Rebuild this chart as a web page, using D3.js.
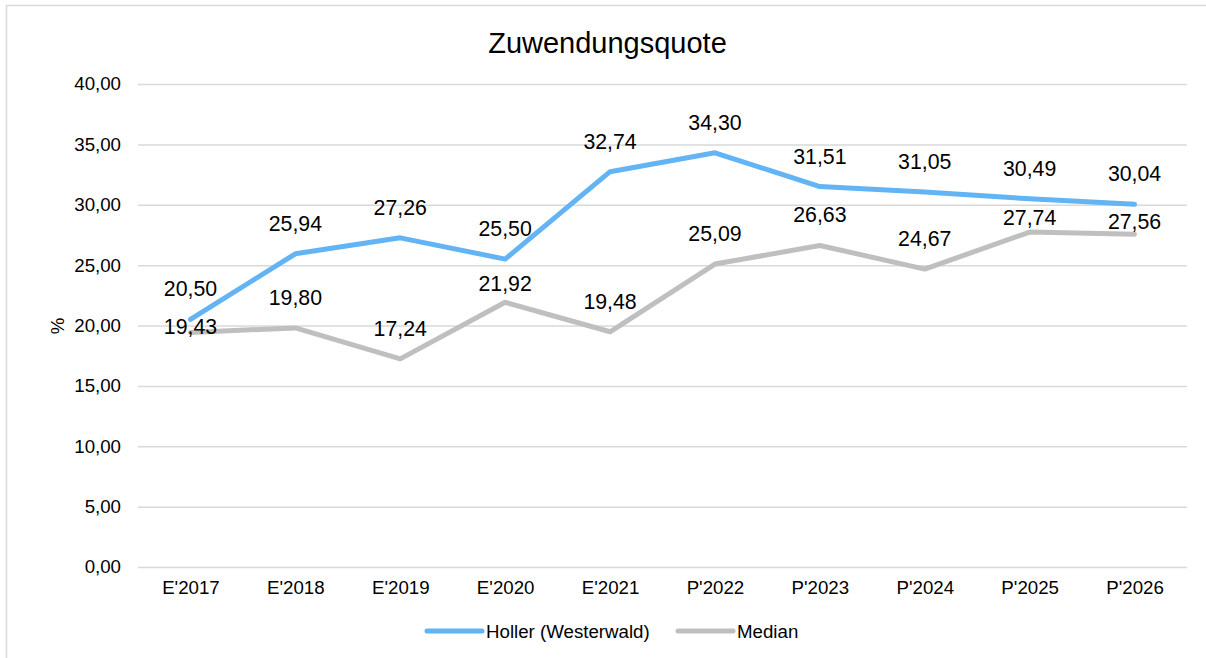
<!DOCTYPE html>
<html>
<head>
<meta charset="utf-8">
<script src="https://cdn.jsdelivr.net/npm/d3@7"></script>
<style>
  body { margin: 0; background: #fff; }
  text { font-family: "Liberation Sans", Arial, sans-serif; fill: #000; }
</style>
</head>
<body>
<script>
// data
var years = ["E'2017", "E'2018", "E'2019", "E'2020", "E'2021", "P'2022", "P'2023", "P'2024", "P'2025", "P'2026"];
var holler = [20.50, 25.94, 27.26, 25.50, 32.74, 34.30, 31.51, 31.05, 30.49, 30.04];
var median = [19.43, 19.80, 17.24, 21.92, 19.48, 25.09, 26.63, 24.67, 27.74, 27.56];
var yTicks = [0, 5, 10, 15, 20, 25, 30, 35, 40];
var seriesNames = ["Holler (Westerwald)", "Median"];
var colours = ["#63b4f4", "#bfbfbf"];

var W = 1206, H = 658;
var fmt = function(v) { return v.toFixed(2).replace(".", ","); };

var svg = d3.select("body").append("svg")
    .attr("width", W)
    .attr("height", H);

// chart frame
svg.append("rect")
    .attr("x", 6.5).attr("y", 5.5)
    .attr("width", W + 10).attr("height", H + 10)
    .attr("fill", "none")
    .attr("stroke", "#d9d9d9")
    .attr("stroke-width", 1.5);

var x = d3.scalePoint().domain(years).range([138, 1187]).padding(0.5);
var y = d3.scaleLinear().domain([0, 40]).range([567, 84]);

// gridlines + y ticks
var yAxis = d3.axisLeft(y).tickValues(yTicks).tickFormat(fmt)
    .tickSize(-(1187 - 138)).tickPadding(17);
var gy = svg.append("g").attr("transform", "translate(138,0)").call(yAxis);
gy.select(".domain").remove();
gy.selectAll("line").attr("stroke", "#d9d9d9").attr("stroke-width", 1.5);
gy.selectAll("text").style("font-size", "18.7px").attr("fill", "#000");

// x axis labels
var xAxis = d3.axisBottom(x).tickSize(0).tickPadding(14);
var gx = svg.append("g").attr("transform", "translate(0,567)").call(xAxis);
gx.select(".domain").remove();
gx.selectAll("text").style("font-size", "18.7px").attr("fill", "#000");

// title and axis name
svg.append("text")
    .attr("x", 607.5).attr("y", 43)
    .attr("text-anchor", "middle")
    .attr("dominant-baseline", "central")
    .style("font-size", "29px")
    .text("Zuwendungsquote");

svg.append("text")
    .attr("transform", "translate(57,326) rotate(-90)")
    .attr("text-anchor", "middle")
    .attr("dominant-baseline", "central")
    .style("font-size", "18.7px")
    .text("%");

var line = d3.line()
    .x(function(d, i) { return x(years[i]); })
    .y(function(d) { return y(d); });

[median, holler].forEach(function(s) {
    svg.append("path")
        .datum(s)
        .attr("d", line)
        .attr("fill", "none")
        .attr("stroke", s === holler ? colours[0] : colours[1])
        .attr("stroke-width", 5)
        .attr("stroke-linejoin", "round")
        .attr("stroke-linecap", "round");
});

// data labels, median labels dodge the blue line
svg.selectAll(".lblH")
    .data(holler)
    .enter()
    .append("text")
    .attr("class", "lblH")
    .attr("x", function(d, i) { return x(years[i]); })
    .attr("y", function(d) { return y(d) - 30; })
    .attr("text-anchor", "middle")
    .attr("dominant-baseline", "central")
    .style("font-size", "21.3px")
    .text(fmt);

svg.selectAll(".lblM")
    .data(median)
    .enter()
    .append("text")
    .attr("class", "lblM")
    .attr("x", function(d, i) { return x(years[i]); })
    .attr("y", function(d, i) {
        var def = y(d) - 30, hy = y(holler[i]);
        if (Math.abs(def - hy) < 22) return y(d) - 0.42 * (y(d) - hy);
        return def;
    })
    .attr("text-anchor", "middle")
    .attr("dominant-baseline", "central")
    .style("font-size", "21.3px")
    .text(fmt);

// legend
var legX = [427, 678];
var leg = svg.selectAll(".leg")
    .data(seriesNames)
    .enter()
    .append("g")
    .attr("class", "leg")
    .attr("transform", function(d, i) { return "translate(" + legX[i] + ",631)"; });
leg.append("line")
    .attr("x1", 0).attr("x2", 55)
    .attr("stroke", function(d, i) { return colours[i]; })
    .attr("stroke-width", 5)
    .attr("stroke-linecap", "round");
leg.append("text")
    .attr("x", 59)
    .attr("dominant-baseline", "central")
    .style("font-size", "18.7px")
    .text(function(d) { return d; });
</script>
</body>
</html>
